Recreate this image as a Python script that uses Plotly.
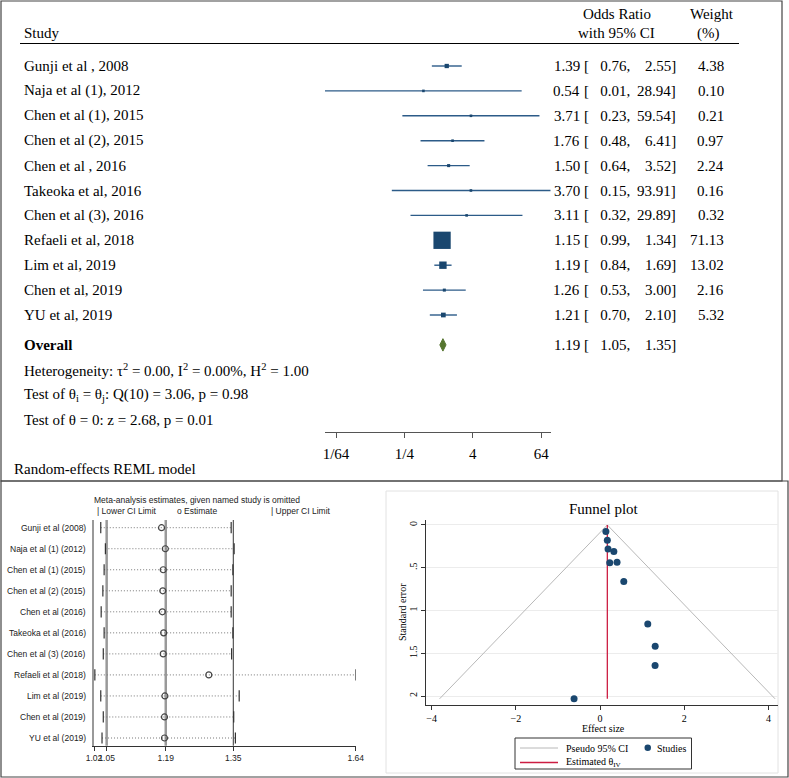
import math
import plotly.graph_objects as go

W, H = 789, 778

# ---------------- data ----------------
studies = ["Gunji et al , 2008", "Naja et al (1), 2012", "Chen et al (1), 2015",
           "Chen et al (2), 2015", "Chen et al , 2016", "Takeoka et al, 2016",
           "Chen et al (3), 2016", "Refaeli et al, 2018", "Lim et al, 2019",
           "Chen et al, 2019", "YU et al, 2019"]
odds_ratio = [1.39, 0.54, 3.71, 1.76, 1.50, 3.70, 3.11, 1.15, 1.19, 1.26, 1.21]
ci_lower = [0.76, 0.01, 0.23, 0.48, 0.64, 0.15, 0.32, 0.99, 0.84, 0.53, 0.70]
ci_upper = [2.55, 28.94, 59.54, 6.41, 3.52, 93.91, 29.89, 1.34, 1.69, 3.00, 2.10]
weights = [4.38, 0.10, 0.21, 0.97, 2.24, 0.16, 0.32, 71.13, 13.02, 2.16, 5.32]
overall = {"or": 1.19, "lo": 1.05, "hi": 1.35}
forest_tickvals = [1/64, 1/4, 4, 64]
forest_ticktext = ["1/64", "1/4", "4", "64"]

loo_labels = ["Gunji et al (2008)", "Naja et al (1) (2012)", "Chen et al (1) (2015)",
              "Chen et al (2) (2015)", "Chen et al (2016)", "Takeoka et al (2016)",
              "Chen et al (3) (2016)", "Refaeli et al (2018)", "Lim et al (2019)",
              "Chen et al (2019)", "YU et al (2019)"]
loo_est = [1.180, 1.189, 1.184, 1.183, 1.182, 1.185, 1.184, 1.292, 1.188, 1.187, 1.187]
loo_lo = [1.036, 1.047, 1.044, 1.041, 1.037, 1.044, 1.042, 1.022, 1.036, 1.042, 1.039]
loo_hi = [1.345, 1.352, 1.349, 1.345, 1.345, 1.349, 1.346, 1.640, 1.364, 1.351, 1.355]
loo_tickvals = [1.02, 1.05, 1.19, 1.35, 1.64]
loo_ticktext = ["1.02", "1.05", "1.19", "1.35", "1.64"]

funnel_effect = [0.329, -0.616, 1.311, 0.565, 0.405, 1.308, 1.135, 0.140, 0.174, 0.231, 0.191]
funnel_se = [0.309, 2.033, 1.418, 0.661, 0.435, 1.643, 1.157, 0.077, 0.178, 0.442, 0.280]
funnel_theta = 0.174
funnel_se_max = 2.033
funnel_tickvals_x = [-4, -2, 0, 2, 4]
funnel_tickvals_y = [0, 0.5, 1, 1.5, 2]
funnel_ticktext_y = ["0", ".5", "1", "1.5", "2"]

# ---------------- helpers ----------------
SERIF = "Liberation Serif, Times New Roman, serif"
SANS = "Liberation Sans, Arial, sans-serif"
NAVY = "#1a476f"
CI_LINE = "#2c5b88"
GREEN = "#55752f"
RED = "#cc1d42"
NB = "\u00a0"


def px(x):
    return x / W


def py(y):
    return 1 - y / H


annotations = []


def ann(text, x, y, xanchor="left", size=15, family=SERIF, yref="paper", color="black", **kw):
    annotations.append(dict(text=text, x=px(x), y=y, xref="paper", yref=yref,
                            xanchor=xanchor, yanchor="middle", showarrow=False,
                            font=dict(family=family, size=size, color=color), **kw))


shapes = []

fig = go.Figure()

# ---------------- forest plot ----------------
row_first_px, row_step, axis_px = 66, 24.9, 432
n = len(studies)
rows = list(range(n))
overall_row = n + 0.2

cx, cy = [], []
for i in rows:
    cx += [ci_lower[i], ci_upper[i], None]
    cy += [i, i, None]
fig.add_trace(go.Scatter(x=cx, y=cy, mode="lines", line=dict(color=CI_LINE, width=1.4),
                         xaxis="x", yaxis="y", hoverinfo="skip"))
sizes = [max(2.05 * math.sqrt(w), 2.6) for w in weights]
fig.add_trace(go.Scatter(x=odds_ratio, y=rows, mode="markers",
                         marker=dict(symbol="square", size=sizes, color=NAVY, opacity=1,
                                     line=dict(width=0)),
                         xaxis="x", yaxis="y"))
dh = 0.25
fig.add_trace(go.Scatter(x=[overall["lo"], overall["or"], overall["hi"], overall["or"], overall["lo"]],
                         y=[overall_row, overall_row - dh, overall_row, overall_row + dh, overall_row],
                         mode="lines", fill="toself", fillcolor=GREEN,
                         line=dict(color=GREEN, width=1), xaxis="x", yaxis="y"))

# headers
ann("Study", 22, py(33))
ann("Odds Ratio", 616.5, py(14), xanchor="center")
ann("with 95% CI", 616.5, py(33), xanchor="center")
ann("Weight", 712, py(14), xanchor="center")
ann("(%)", 708, py(33), xanchor="center")
shapes.append(dict(type="line", xref="paper", yref="paper", x0=px(20), x1=px(739),
                   y0=py(43.5), y1=py(43.5), line=dict(color="black", width=1.2)))

for i in rows:
    ann(studies[i], 22, i, yref="y")
    ann(f"{odds_ratio[i]:.2f}", 581.5, i, xanchor="right", yref="y")
    ann(f"[{NB}{NB}{NB}{ci_lower[i]:.2f},", 631.5, i, xanchor="right", yref="y")
    ann(f"{ci_upper[i]:.2f}]", 678, i, xanchor="right", yref="y")
    ann(f"{weights[i]:.2f}", 726, i, xanchor="right", yref="y")

ann("<b>Overall</b>", 22, overall_row, yref="y")
ann(f"{overall['or']:.2f}", 581.5, overall_row, xanchor="right", yref="y")
ann(f"[{NB}{NB}{NB}{overall['lo']:.2f},", 631.5, overall_row, xanchor="right", yref="y")
ann(f"{overall['hi']:.2f}]", 678, overall_row, xanchor="right", yref="y")

ann("Heterogeneity: τ<sup>2</sup> = 0.00, I<sup>2</sup> = 0.00%, H<sup>2</sup> = 1.00", 22, py(370))
ann("Test of θ<sub>i</sub> = θ<sub>j</sub>: Q(10) = 3.06, p = 0.98", 22, py(395))
ann("Test of θ = 0: z = 2.68, p = 0.01", 22, py(420))
ann("Random-effects REML model", 12, py(469))

# ---------------- leave-one-out plot ----------------
lx, ly = [], []
for i in rows:
    lx += [loo_lo[i], loo_hi[i], None]
    ly += [i, i, None]
fig.add_trace(go.Scatter(x=lx, y=ly, mode="lines", line=dict(color="#777777", width=1, dash="1px,2px"),
                         xaxis="x2", yaxis="y2"))
fig.add_trace(go.Scatter(x=loo_lo + loo_hi, y=rows + rows, mode="markers",
                         marker=dict(symbol="line-ns", size=8, line=dict(color="#333333", width=1.2)),
                         xaxis="x2", yaxis="y2"))
fig.add_trace(go.Scatter(x=loo_est, y=rows, mode="markers",
                         marker=dict(symbol="circle-open", size=6, color="#444444", line=dict(width=1.2)),
                         xaxis="x2", yaxis="y2"))
for v, col, wd in [(overall["lo"], "#999999", 2.5), (overall["or"], "#999999", 2.5), (overall["hi"], "#333333", 1)]:
    shapes.append(dict(type="line", xref="x2", yref="y2 domain", x0=v, x1=v, y0=0, y1=1,
                       line=dict(color=col, width=wd), layer="below"))
for i in rows:
    ann(loo_labels[i], 88, i, xanchor="right", size=8.5, family=SANS, yref="y2", color="#222")
ann("Meta-analysis estimates, given named study is omitted", 197, py(499.5), xanchor="center",
    size=8.5, family=SANS, color="#222")
ann("| Lower CI Limit", 95, py(510.5), size=8.5, family=SANS, color="#222")
ann("o Estimate", 175, py(510.5), size=8.5, family=SANS, color="#222")
ann("| Upper CI Limit", 269, py(510.5), size=8.5, family=SANS, color="#222")

# ---------------- funnel plot ----------------
fig.add_trace(go.Scatter(x=[funnel_theta - 1.96 * funnel_se_max, funnel_theta, funnel_theta + 1.96 * funnel_se_max],
                         y=[funnel_se_max, 0, funnel_se_max], mode="lines",
                         line=dict(color="#b8b8b8", width=1), xaxis="x3", yaxis="y3"))
fig.add_trace(go.Scatter(x=[funnel_theta, funnel_theta], y=[0, funnel_se_max], mode="lines",
                         line=dict(color=RED, width=1.3), xaxis="x3", yaxis="y3"))
fig.add_trace(go.Scatter(x=funnel_effect, y=funnel_se, mode="markers",
                         marker=dict(symbol="circle", size=7, color=NAVY, opacity=1),
                         xaxis="x3", yaxis="y3"))

shapes.append(dict(type="rect", xref="paper", yref="paper", x0=px(386), x1=px(778), y0=py(773), y1=py(491),
                   line=dict(color="#e2e2e2", width=1), layer="below"))
ann("Funnel plot", 604, py(509.5), xanchor="center", size=15)
ann("Standard error", 402, py(612), xanchor="center", size=10, textangle=-90)
ann("Effect size", 603, py(728.5), xanchor="center", size=10)
# legend
shapes.append(dict(type="rect", xref="paper", yref="paper", x0=px(515), x1=px(691.5), y0=py(769), y1=py(738),
                   line=dict(color="#333333", width=1)))
shapes.append(dict(type="line", xref="paper", yref="paper", x0=px(520), x1=px(558), y0=py(748), y1=py(748),
                   line=dict(color="#b8b8b8", width=1)))
shapes.append(dict(type="line", xref="paper", yref="paper", x0=px(520), x1=px(558), y0=py(762.5), y1=py(762.5),
                   line=dict(color=RED, width=1.3)))
shapes.append(dict(type="circle", xref="paper", yref="paper", x0=px(644.5), x1=px(651), y0=py(751), y1=py(744.5),
                   fillcolor=NAVY, line=dict(width=0)))
ann("Pseudo 95% CI", 564, py(748), size=10)
ann("Studies", 655, py(748), size=10)
ann("Estimated θ<sub>IV</sub>", 564, py(762.5), size=10)

# panel borders
shapes.append(dict(type="rect", xref="paper", yref="paper", x0=px(1), x1=px(782), y0=py(481), y1=py(1),
                   line=dict(color="#444444", width=1.2)))
shapes.append(dict(type="rect", xref="paper", yref="paper", x0=px(1), x1=px(788), y0=py(777), y1=py(481),
                   line=dict(color="#444444", width=1.2)))

# ---------------- layout ----------------
fig.update_layout(
    template="none",
    width=W, height=H, margin=dict(l=0, r=0, t=0, b=0, pad=0, autoexpand=False),
    paper_bgcolor="white", plot_bgcolor="white", showlegend=False,
    annotations=annotations, shapes=shapes,
    xaxis=dict(type="log", domain=[px(325), px(550.7)],
               range=[math.log10(min(ci_lower)), math.log10(max(ci_upper))],
               anchor="y", showline=True, linecolor="#555555", linewidth=1,
               ticks="outside", ticklen=5, tickcolor="#555555",
               tickvals=forest_tickvals, ticktext=forest_ticktext, tickangle=0,
               tickfont=dict(family=SERIF, size=15, color="black"), ticklabelstandoff=3,
               showgrid=False, zeroline=False, automargin=False),
    yaxis=dict(domain=[py(axis_px), 1],
               range=[(axis_px - row_first_px) / row_step, -row_first_px / row_step],
               visible=False, anchor="x", showgrid=False, zeroline=False, automargin=False),
    xaxis2=dict(domain=[px(94), px(355.7)], range=[loo_tickvals[0], loo_tickvals[-1]],
                anchor="y2", showline=True, linecolor="#333333", linewidth=1,
                ticks="outside", ticklen=4, tickcolor="#333333",
                tickvals=loo_tickvals, ticktext=loo_ticktext, tickangle=0,
                tickfont=dict(family=SANS, size=8.5, color="#222"),
                showgrid=False, zeroline=False, automargin=False),
    yaxis2=dict(domain=[py(745.7), py(520)], range=[n - 1 + 0.366, -0.366],
                anchor="x2", showline=True, linecolor="#999999", linewidth=1.5,
                showticklabels=False, ticks="", showgrid=False, zeroline=False, automargin=False),
    xaxis3=dict(domain=[px(426), px(778)], range=[-4.133, 4.228], anchor="y3",
                showline=True, linecolor="#333333", linewidth=1,
                ticks="outside", ticklen=4, tickcolor="#333333", tickvals=funnel_tickvals_x,
                tickangle=0, tickfont=dict(family=SERIF, size=10, color="black"),
                showgrid=False, zeroline=False, automargin=False),
    yaxis3=dict(domain=[py(705), py(520)], range=[2.105, -0.058], anchor="x3",
                showline=True, linecolor="#333333", linewidth=1,
                ticks="outside", ticklen=4, tickcolor="#333333",
                tickvals=funnel_tickvals_y, ticktext=funnel_ticktext_y, tickangle=-90,
                tickfont=dict(family=SERIF, size=10, color="black"),
                showgrid=True, gridcolor="#ececec", gridwidth=1, zeroline=False, automargin=False),
)

fig.write_html("out.html", config={"displayModeBar": False},
               post_script="document.body.style.margin='0px';document.body.style.overflow='hidden';")
